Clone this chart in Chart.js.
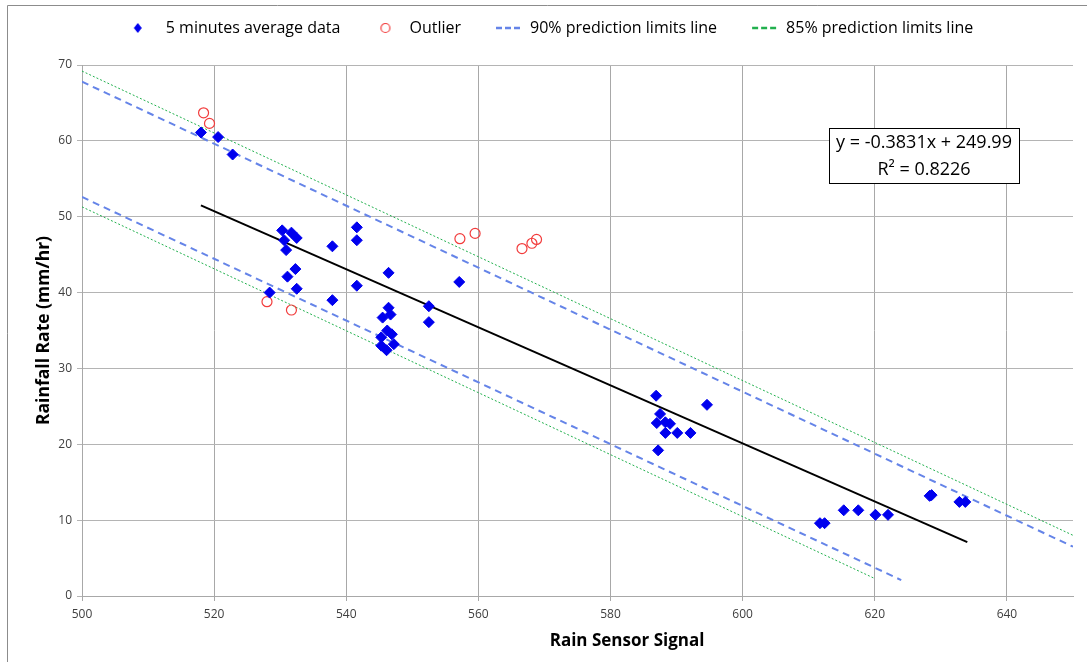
<!DOCTYPE html>
<html>
<head>
<meta charset="utf-8">
<script src="https://cdn.jsdelivr.net/npm/chart.js@4.4.1/dist/chart.umd.min.js"></script>
<style>
  html, body { margin: 0; padding: 0; background: #fff; }
  #wrap { width: 1087px; height: 662px; }
</style>
</head>
<body>
<div id="wrap"><canvas id="rainChart" width="1087" height="662"></canvas></div>
<script>
// 5 minutes average data
const avgX = [518.0, 520.6, 522.8, 530.3, 531.7, 532.5, 530.6, 530.9, 537.9, 541.6,
  541.6, 532.3, 531.1, 532.5, 528.4, 537.9, 541.6, 546.4, 557.1, 546.4,
  545.5, 546.7, 546.2, 546.9, 545.3, 547.2, 545.3, 546.1, 552.5, 552.5,
  586.9, 587.5, 587.0, 588.3, 589.0, 588.3, 590.1, 592.1, 594.6, 587.2,
  611.7, 612.4, 615.3, 617.5, 620.1, 622.0, 628.3, 628.6, 632.8, 633.7];
const avgY = [61.1, 60.5, 58.2, 48.2, 47.9, 47.2, 46.9, 45.6, 46.1, 48.6,
  46.9, 43.1, 42.1, 40.5, 40.0, 39.0, 40.9, 42.6, 41.4, 38.0,
  36.7, 37.1, 35.0, 34.5, 34.1, 33.2, 33.0, 32.4, 38.2, 36.1,
  26.4, 24.0, 22.8, 22.9, 22.7, 21.5, 21.5, 21.5, 25.2, 19.2,
  9.6, 9.6, 11.3, 11.3, 10.7, 10.7, 13.2, 13.3, 12.4, 12.4];

// outliers
const outX = [518.4, 519.3, 528.0, 531.7, 557.2, 559.5, 566.6, 568.1, 568.8];
const outY = [63.7, 62.3, 38.8, 37.7, 47.1, 47.8, 45.8, 46.5, 47.0];

// regression and prediction limit lines (end points)
const fitX = [518, 634];
const fitY = [51.5, 7.1];
const upper90X = [500, 650];
const upper90Y = [67.8, 6.5];
const lower90X = [500, 624];
const lower90Y = [52.6, 2.1];
const upper85X = [500, 650];
const upper85Y = [69.2, 8.0];
const lower85X = [500, 620];
const lower85Y = [51.3, 2.3];

const seriesNames = ["5 minutes average data", "Outlier", "90% prediction limits line", "85% prediction limits line"];
const eqText = "y = -0.3831x + 249.99";
const r2Text = "R\u00b2 = 0.8226";
const xTitle = "Rain Sensor Signal";
const yTitle = "Rainfall Rate (mm/hr)";

const FONT = '"Open Sans", "Noto Sans", sans-serif';
const BLUE = "#0000ee";
const RED = "#f23c3c";
const DASH_BLUE = "#6584e8";
const DOT_GREEN = "#22b04e";
const LEGEND_H = 58;

const pts = (xs, ys) => xs.map((x, i) => ({ x: x, y: ys[i] }));

// small canvases used as legend markers (marker sits in the right half)
function marker(draw) {
  const c = document.createElement("canvas");
  c.width = 48;
  c.height = 12;
  draw(c.getContext("2d"));
  return c;
}
const diamondMark = marker((g) => {
  g.fillStyle = BLUE;
  g.beginPath();
  g.moveTo(28, 1); g.lineTo(32, 6); g.lineTo(28, 11); g.lineTo(24, 6);
  g.closePath();
  g.fill();
});
const circleMark = marker((g) => {
  g.strokeStyle = RED;
  g.lineWidth = 1.2;
  g.beginPath();
  g.arc(32, 6, 4.5, 0, Math.PI * 2);
  g.stroke();
});
function dashMark(color) {
  return marker((g) => {
    g.strokeStyle = color;
    g.lineWidth = 2.5;
    g.beginPath();
    [22, 31, 40].forEach((s) => { g.moveTo(s, 6); g.lineTo(s + 6, 6); });
    g.stroke();
  });
}
const legendMarks = [diamondMark, circleMark, dashMark(DASH_BLUE), dashMark(DOT_GREEN)];

const extras = {
  id: "extras",
  beforeLayout(chart) {
    // fixed legend height so the plot top lines up
    const lg = chart.legend;
    if (lg && !lg._fixedH) {
      const fit = lg.fit;
      lg.fit = function () { fit.call(this); this.height = LEGEND_H; };
      lg._fixedH = true;
    }
  },
  afterDraw(chart) {
    const { ctx, scales } = chart;
    const x = scales.x, y = scales.y;
    ctx.save();
    // outer frame (only top and left visible)
    ctx.strokeStyle = "#8c8c8c";
    ctx.lineWidth = 1;
    ctx.beginPath();
    ctx.moveTo(7.5, 662);
    ctx.lineTo(7.5, 5.5);
    ctx.lineTo(1087, 5.5);
    ctx.stroke();

    // x axis title
    ctx.fillStyle = "#000";
    ctx.textAlign = "center";
    ctx.textBaseline = "middle";
    ctx.font = "bold 17px " + FONT;
    ctx.fillText(xTitle, x.getPixelForValue(582.5), 641);

    // equation box
    const bl = Math.round(x.getPixelForValue(613));
    const br = Math.round(x.getPixelForValue(641.9));
    const bt = Math.round(y.getPixelForValue(61.7));
    const bb = Math.round(y.getPixelForValue(54.4));
    ctx.fillStyle = "#fff";
    ctx.fillRect(bl, bt, br - bl, bb - bt);
    ctx.strokeStyle = "#000";
    ctx.strokeRect(bl + 0.5, bt + 0.5, br - bl, bb - bt);
    ctx.fillStyle = "#000";
    ctx.font = "18px " + FONT;
    ctx.fillText(eqText, (bl + br) / 2, bt + 15);
    ctx.fillText(r2Text, (bl + br) / 2, bt + 42);
    ctx.restore();
  }
};

const lineSet = (label, data, color, width, dash) => ({
  label: label,
  data: data,
  showLine: true,
  borderColor: color,
  borderWidth: width,
  borderDash: dash,
  pointRadius: 0,
  pointHoverRadius: 0,
  fill: false
});

new Chart(document.getElementById("rainChart"), {
  type: "scatter",
  data: {
    datasets: [
      {
        label: seriesNames[0],
        data: pts(avgX, avgY),
        pointStyle: "rectRot",
        pointRadius: 5.5,
        backgroundColor: BLUE,
        borderColor: BLUE,
        borderWidth: 1
      },
      {
        label: seriesNames[1],
        data: pts(outX, outY),
        pointStyle: "circle",
        pointRadius: 5,
        backgroundColor: "rgba(0,0,0,0)",
        borderColor: RED,
        borderWidth: 1.2
      },
      lineSet(seriesNames[2], pts(upper90X, upper90Y), DASH_BLUE, 2, [7, 5]),
      lineSet(seriesNames[2], pts(lower90X, lower90Y), DASH_BLUE, 2, [7, 5]),
      lineSet(seriesNames[3], pts(upper85X, upper85Y), DOT_GREEN, 1, [2, 2]),
      lineSet(seriesNames[3], pts(lower85X, lower85Y), DOT_GREEN, 1, [2, 2]),
      lineSet("fit", pts(fitX, fitY), "#000", 2, [])
    ]
  },
  options: {
    responsive: false,
    animation: false,
    devicePixelRatio: 1,
    layout: { padding: { left: 10, right: 14, top: 7, bottom: 0 } },
    plugins: {
      tooltip: { enabled: false },
      legend: {
        position: "top",
        labels: {
          usePointStyle: true,
          pointStyleWidth: 48,
          padding: 13,
          color: "#000",
          font: { family: FONT, size: 16 },
          generateLabels: () => seriesNames.map((name, i) => ({
            text: name,
            pointStyle: legendMarks[i],
            fillStyle: "rgba(0,0,0,0)",
            strokeStyle: "rgba(0,0,0,0)",
            lineWidth: 0,
            hidden: false,
            datasetIndex: i === 3 ? 4 : i
          }))
        }
      }
    },
    scales: {
      x: {
        type: "linear",
        min: 500,
        max: 650,
        ticks: { stepSize: 20, color: "#404040", padding: 6, font: { family: FONT, size: 12 } },
        grid: { color: "#a8a8a8", tickLength: 5 },
        border: { color: "#a8a8a8" },
        afterBuildTicks: (s) => { s.ticks = s.ticks.filter((t) => t.value % 20 === 0); },
        afterFit: (s) => { s.height = 66; }
      },
      y: {
        min: 0,
        max: 70,
        ticks: { stepSize: 10, color: "#404040", padding: 5, font: { family: FONT, size: 12 } },
        grid: { color: "#b4b4b4", tickLength: 5 },
        border: { color: "#a8a8a8" },
        title: {
          display: true,
          text: yTitle,
          color: "#000",
          font: { family: FONT, size: 17.5, weight: "bold" },
          padding: { top: 24, bottom: 0 }
        },
        afterFit: (s) => { s.width = 72; }
      }
    }
  },
  plugins: [extras]
});
</script>
</body>
</html>
